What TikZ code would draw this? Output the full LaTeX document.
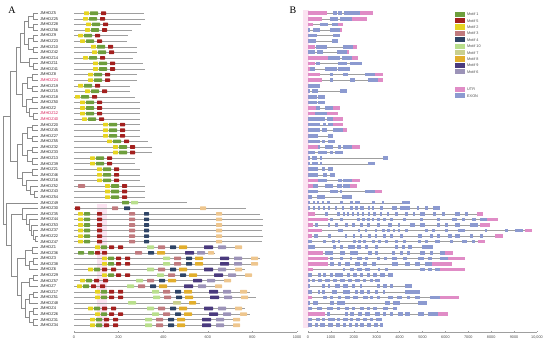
\documentclass[tikz,border=0pt]{standalone}
\usepackage{fontspec}
\setmainfont{Liberation Serif}
\setsansfont{Liberation Sans}
\usetikzlibrary{calc}

\definecolor{treegray}{HTML}{8C8C8C}
\definecolor{mone}{HTML}{6E9E3C}
\definecolor{mfive}{HTML}{A3201E}
\definecolor{mtwo}{HTML}{E6D421}
\definecolor{mthree}{HTML}{C07A7E}
\definecolor{mfour}{HTML}{2E4466}
\definecolor{mten}{HTML}{B9DF8C}
\definecolor{mseven}{HTML}{C9CF8E}
\definecolor{meight}{HTML}{E2AE2C}
\definecolor{mnine}{HTML}{4A3A7E}
\definecolor{msix}{HTML}{9C93B8}
\definecolor{mtan}{HTML}{EEC68E}
\definecolor{utrpink}{HTML}{E08CC6}
\definecolor{exonblue}{HTML}{8C9AD0}
\definecolor{bandpink}{HTML}{FBE3F1}
\definecolor{hlred}{HTML}{D8205A}

\tikzset{
  branch/.style={treegray,line width=0.35pt},
  protline/.style={gray!75,line width=0.4pt},
  intron/.style={gray!75,line width=0.35pt},
  gname/.style={font=\sffamily\fontsize{4}{4}\selectfont,anchor=west,inner sep=0pt},
  scalelabel/.style={font=\sffamily\fontsize{3.8}{4}\selectfont,inner sep=0pt,text=black!70},
  keytext/.style={font=\sffamily\fontsize{3.8}{4}\selectfont,anchor=west,inner sep=0pt,text=black!70},
  panel/.style={font=\fontsize{10}{10}\selectfont,inner sep=0pt}
}

\newcommand{\clade}[4]{%
  \path let \p1=($(#3)!.5!(#4)$) in (#2pt,\y1) coordinate (#1);
  \draw[branch] (#1) |- (#3) (#1) |- (#4);}
\newcommand{\motif}[4]{\fill[#1,rounded corners=0.5pt] (#2,#4-1.8) rectangle ++(#3,3.6);}

\begin{document}
\begin{tikzpicture}[x=1pt,y=-1pt]
  \useasboundingbox (0,0) rectangle (550,344);
  \node[panel] (pa) at (12,10) {A};
  \node[panel] (pb) at (293,10) {B};

  \fill[bandpink] (97,204) rectangle (107,328);
  \fill[bandpink] (303,10) rectangle (309,328);

  \foreach \lab [count=\r] in {5,25,28,56,9,23,10,42,14,11,41,8,24,19,15,18,50,2,12,40,20,45,27,55,32,33,13,39,21,46,16,52,43,54,49,30,35,44,53,37,22,47,1,36,3,38,6,29,57,7,17,51,48,4,26,31,34}{
    \pgfmathsetmacro\yy{13.3+(\r-1)*5.57}
    \def\tc{black!85}
    \ifnum\r=13 \def\tc{hlred}\fi
    \ifnum\r=19 \def\tc{hlred}\fi
    \ifnum\r=20 \def\tc{hlred}\fi
    \coordinate (l\r) at (38,\yy);
    \node[gname,text=\tc] (g\r) at (40,\yy) {JMHDZ\lab};
  }

  \clade{a1}{33}{l1}{l2}
  \clade{a2}{33}{l3}{l4}
  \clade{a}{28}{a1}{a2}
  \clade{b1}{33}{l5}{l6}
  \clade{b2}{33}{l7}{l8}
  \clade{b}{28}{b1}{b2}
  \clade{ab}{24}{a}{b}
  \clade{c1}{33}{l10}{l11}
  \clade{c}{29}{l9}{c1}
  \clade{abc}{20}{ab}{c}
  \clade{d}{32}{l12}{l13}
  \clade{e}{32}{l14}{l15}
  \clade{de}{27}{d}{e}
  \clade{f}{32}{l16}{l17}
  \clade{g1}{33}{l19}{l20}
  \clade{g}{29}{l18}{g1}
  \clade{fg}{26}{f}{g}
  \clade{defg}{22}{de}{fg}
  \clade{top}{16}{abc}{defg}
  \clade{h}{32}{l21}{l22}
  \clade{i}{32}{l23}{l24}
  \clade{hi}{27}{h}{i}
  \clade{j}{32}{l25}{l26}
  \clade{k}{32}{l27}{l28}
  \clade{jk}{27}{j}{k}
  \clade{hijk}{22}{hi}{jk}
  \clade{ll}{32}{l29}{l30}
  \clade{m2}{34}{l33}{l34}
  \clade{m1}{30}{l32}{m2}
  \clade{m}{26}{l31}{m1}
  \clade{lm}{22}{ll}{m}
  \clade{bot}{17}{hijk}{lm}
  \clade{G1}{10}{top}{bot}
  \clade{q6}{35}{l41}{l42}
  \clade{q5}{33}{l40}{q6}
  \clade{q4}{31}{l39}{q5}
  \clade{q3}{29}{l38}{q4}
  \clade{q2}{26}{l37}{q3}
  \clade{q}{22}{l36}{q2}
  \clade{r1}{32}{l43}{l44}
  \clade{r2}{33}{l45}{l46}
  \clade{r3}{29}{r2}{l47}
  \clade{r4}{25}{r1}{r3}
  \clade{s1}{33}{l48}{l49}
  \clade{s2}{29}{s1}{l50}
  \clade{s3}{33}{l51}{l52}
  \clade{s4}{29}{s3}{l53}
  \clade{s5}{33}{l54}{l55}
  \clade{s6}{33}{l56}{l57}
  \clade{s7}{29}{s5}{s6}
  \clade{s8}{25}{s4}{s7}
  \clade{s9}{21}{s2}{s8}
  \clade{rr}{17}{r4}{s9}
  \clade{G3}{11}{q}{rr}
  \clade{X}{6}{l35}{G3}
  \clade{root}{3}{G1}{X}

  \foreach \r/\s/\e in {1/84/144,2/83/145,3/86/141,4/85/132,5/78/128,6/80/127,7/91/137,8/92/137,9/83/133,10/93/143,11/93/145,12/88/137,13/88/137,14/78/130,15/85/130,16/75/135,17/80/140,18/80/140,19/80/140,20/82/140,21/103/140,22/103/140,23/103/140,24/107/148,25/113/152,26/113/152,27/90/135,28/90/135,29/97/140,30/97/140,31/97/140,32/105/145,33/105/145,34/105/145}{
    \pgfmathsetmacro\yy{13.3+(\r-1)*5.57}
    \draw[protline] (74,\yy) -- (\e,\yy);
    \motif{mtwo}{\s}{5}{\yy}
    \motif{mone}{\s+6}{8}{\yy}
    \motif{mfive}{\s+17}{5}{\yy}
  }
  \motif{mthree}{78}{7}{13.3+31*5.57}
  \draw[protline] (74,{13.3+34*5.57}) -- (187,{13.3+34*5.57});
  \motif{mone}{122}{7}{13.3+34*5.57}
  \motif{mten}{131}{7}{13.3+34*5.57}

  \pgfmathsetmacro\yy{13.3+35*5.57}
  \draw[protline] (74,\yy) -- (246,\yy);
  \motif{mfive}{75}{5}{\yy}
  \motif{mthree}{112}{6}{\yy}
  \motif{mfour}{124}{6}{\yy}
  \motif{mtan}{200}{6}{\yy}
  \foreach \r/\e in {37/260,38/263,39/263,40/262,41/263,42/262}{
    \pgfmathsetmacro\yy{13.3+(\r-1)*5.57}
    \draw[protline] (74,\yy) -- (\e,\yy);
    \motif{mtwo}{78}{5}{\yy}
    \motif{mone}{84}{6}{\yy}
    \motif{mfive}{97}{5}{\yy}
    \motif{mthree}{129}{6}{\yy}
    \motif{mfour}{144}{5}{\yy}
    \motif{mtan}{216}{6}{\yy}
  }

  \foreach \r/\Y/\L/\e in {43/95/147/240,45/102/163/260,46/102/163/255,47/88/147/245,48/102/157/250,49/80/136/225,50/77/127/215,51/95/152/250,52/95/153/256,54/88/147/245,55/95/152/250,56/90/145/240,57/90/145/238}{
    \pgfmathsetmacro\yy{13.3+(\r-1)*5.57}
    \draw[protline] (74,\yy) -- (\e,\yy);
    \motif{mtwo}{\Y}{5}{\yy}
    \motif{mone}{\Y+6}{6}{\yy}
    \motif{mfive}{\Y+14}{5}{\yy}
    \motif{mfive}{\Y+23}{5}{\yy}
    \motif{mten}{\L}{7}{\yy}
    \motif{mthree}{\L+11}{7}{\yy}
    \motif{mfour}{\L+23}{6}{\yy}
    \motif{meight}{\L+32}{8}{\yy}
    \motif{mnine}{\L+57}{9}{\yy}
    \motif{msix}{\L+71}{8}{\yy}
    \motif{mtan}{\L+88}{7}{\yy}
  }
  \pgfmathsetmacro\yy{13.3+43*5.57}
  \draw[protline] (74,\yy) -- (215,\yy);
  \motif{mone}{78}{6}{\yy}
  \motif{mone}{88}{6}{\yy}
  \motif{mfive}{95}{5}{\yy}
  \motif{mfive}{102}{5}{\yy}
  \motif{mthree}{135}{7}{\yy}
  \motif{mfour}{148}{6}{\yy}
  \motif{meight}{157}{8}{\yy}
  \motif{mnine}{185}{9}{\yy}
  \motif{msix}{197}{8}{\yy}
  \motif{mtan}{208}{6}{\yy}
  \pgfmathsetmacro\yy{13.3+52*5.57}
  \draw[protline] (74,\yy) -- (200,\yy);
  \motif{mten}{128}{8}{\yy}
  \motif{mseven}{173}{8}{\yy}
  \motif{meight}{189}{7}{\yy}

  \draw[protline] (74,332) -- (297,332);
  \foreach \t in {0,200,...,1000}{
    \pgfmathsetmacro\tx{74+\t*0.223}
    \draw[protline] (\tx,332) -- (\tx,330.8);
    \node[scalelabel] (sa\t) at (\tx,337) {\t};
  }

  \foreach \r/\b/\ex/\ut in {
    1/373/{333/337,338/342,344/360}/{308/327,360/373},
    2/367/{330/338,340/352}/{308/322,352/367},
    3/343/{320/328,332/338}/{308/313,338/343},
    4/342/{308/310,313/320,330/340}/{340/342},
    5/340/{308/317,333/340}/{308/308},
    6/338/{308/316,332/338}/{308/308},
    7/357/{316/327,343/353}/{308/315,353/357},
    8/349/{308/315,317/323,337/347}/{347/349},
    9/358/{328/340,342/352}/{308/328,352/358},
    10/362/{316/320,338/347,350/362}/{308/315},
    11/350/{310/315,325/337,338/350}/{308/310},
    12/383/{330/333,343/348,365/375}/{308/320,375/383},
    13/383/{330/333,350/355,368/378}/{308/322,378/383},
    14/320/{308/320}/{308/308},
    15/347/{308/310,312/318,340/347}/{308/308},
    16/325/{308/317,318/325}/{308/308},
    17/325/{308/317,318/325}/{308/308},
    18/340/{316/320,325/333}/{308/316,333/340},
    19/338/{315/327}/{308/315,327/338},
    20/343/{308/325,327/333}/{333/343},
    21/343/{308/320,323/326,328/333}/{333/343},
    22/347/{308/320,322/327,333/343}/{343/347},
    23/333/{308/318,328/333}/{308/308},
    24/335/{308/320,322/325,328/335}/{308/308},
    25/360/{318/320,325/333,338/341,343/352}/{308/318,352/360},
    26/343/{308/315,318/327,330/333,335/343}/{308/308},
    27/388/{308/310,312/317,320/322,383/388}/{308/308},
    28/375/{308/310,312/318,320/322,368/375}/{308/308},
    29/333/{308/318,322/325,328/333}/{308/308},
    30/335/{308/318,323/327,330/335}/{308/308},
    31/360/{318/327,338/342,343/352}/{308/318,352/360},
    32/357/{313/318,325/333,337/342,343/350}/{308/313,350/357},
    33/382/{308/318,330/338,340/342,365/375}/{375/382},
    34/352/{308/312,317/325,342/352}/{308/308},
    35/410/{308/310,313/315,317/319,322/324,327/330,340/343,350/353,355/360,372/375,382/384,402/410}/{308/308},
    36/440/{308/310,313/315,318/320,323/325,328/330,335/337,342/344,350/353,355/358,360/364,368/370,372/374,380/383,392/397,400/410,417/419,425/428,433/440}/{308/308},
    37/483/{325/328,337/340,343/345,347/349,352/354,357/359,362/364,368/370,373/376,380/382,387/389,395/398,405/408,413/415,420/425,433/436,442/445,455/460,465/468}/{308/315,477/483},
    38/498/{330/333,340/343,357/360,362/365,367/370,372/374,377/380,383/386,390/393,403/406,420/423,437/440,452/457,462/465,472/476,480/487}/{308/328,487/498},
    39/490/{315/318,328/330,335/338,345/348,352/355,360/363,367/370,377/380,388/392,398/400,410/415,420/425,437/440,445/448,455/460,470/478}/{308/313,480/490},
    40/532/{338/343,358/360,365/367,375/377,382/385,387/390,393/395,398/400,405/408,425/428,432/435,445/448,458/465,485/487,505/508,515/523}/{308/322,525/532},
    41/503/{314/318,328/331,345/347,353/355,360/362,368/371,375/377,383/386,390/393,400/403,418/422,430/433,437/440,448/452,455/460,470/473,480/483}/{308/312,495/503},
    42/485/{308/312,323/326,332/335,338/340,353/356,358/361,363/366,372/375,378/381,385/388,395/398,403/406,418/421,425/428,435/440,450/453,462/467,472/475}/{478/485},
    43/433/{308/315,333/336,340/343,348/355,357/361,365/368,375/378,395/398,402/405,408/412,422/433}/{308/308},
    44/453/{325/333,340/345,350/358,368/372,375/378,392/395,400/403,407/410,420/425,430/433,440/445}/{308/323,445/453},
    45/465/{330/333,340/343,350/352,357/362,365/368,377/380,384/387,392/397,403/407,418/424,428/432,440/448}/{308/328,448/465},
    46/452/{330/334,338/341,345/350,355/360,363/367,372/376,392/398,405/410,415/420,425/432}/{308/328,432/452},
    47/465/{343/345,350/354,357/362,365/370,378/380,385/388,420/425,428/432,435/440}/{308/313,440/465},
    48/393/{308/312,318/321,323/326,330/333,335/343,347/350,353/357,360/363,367/370,373/377,380/385,388/393}/{308/308},
    49/380/{308/310,312/315,318/322,325/330,333/337,340/345,348/352,355/360,363/366,370/373,375/380}/{308/308},
    50/412/{308/310,322/325,328/330,335/340,343/348,352/355,360/362,377/380,383/387,390/393,405/412}/{308/308},
    51/420/{308/312,318/320,322/325,332/337,343/350,355/358,360/364,367/370,375/378,383/385,405/420}/{308/308},
    52/459/{323/327,330/333,338/341,345/350,353/358,363/368,370/373,377/380,388/393,397/402,407/410,415/420,430/440}/{308/312,440/459},
    53/427/{308/310,313/318,330/334,337/345,385/390,393/400,418/427}/{308/308},
    54/397/{308/312,317/322,327/333,337/340,345/349,352/355,360/364,367/370,373/377,383/388,393/397}/{308/308},
    55/448/{327/330,345/348,350/354,358/362,365/370,375/380,383/386,390/393,398/403,405/410,418/424,428/438}/{308/325,438/448},
    56/382/{308/312,316/320,322/325,328/335,337/340,343/348,350/353,356/360,363/367,370/373,376/382}/{308/308},
    57/383/{308/312,315/318,320/325,328/333,336/340,343/346,349/352,355/358,360/364,367/371,374/378,380/383}/{308/308}}{
    \pgfmathsetmacro\yy{13.3+(\r-1)*5.57}
    \draw[intron] (308,\yy) -- (\b,\yy);
    \foreach \p/\q in \ex {\fill[exonblue] (\p,\yy-1.8) rectangle (\q,\yy+1.8);}
    \foreach \p/\q in \ut {\fill[utrpink] (\p,\yy-1.8) rectangle (\q,\yy+1.8);}
  }

  \draw[protline] (308,332) -- (537,332);
  \foreach \k/\lab in {0/0,1/1000,2/2000,3/3000,4/4000,5/5000,6/6000,7/7000,8/8000,9/9000,10/{10,000}}{
    \pgfmathsetmacro\tx{308+\k*22.9}
    \draw[protline] (\tx,332) -- (\tx,330.8);
    \node[scalelabel] (sb\k) at (\tx,337) {\lab};
  }

  \foreach \c/\t [count=\i] in {mone/Motif 1,mfive/Motif 5,mtwo/Motif 2,mthree/Motif 3,mfour/Motif 4,mten/Motif 10,mseven/Motif 7,meight/Motif 8,mnine/Motif 9,msix/Motif 6}{
    \pgfmathsetmacro\ky{14.3+(\i-1)*6.4}
    \fill[\c] (455,\ky-2.6) rectangle (465,\ky+2.6);
    \node[keytext] (key\i) at (467,\ky) {\t};
  }
  \fill[utrpink] (455,86.7) rectangle (465,91.9);
  \node[keytext] (keyutr) at (467,89.3) {UTR};
  \fill[exonblue] (455,93.1) rectangle (465,98.3);
  \node[keytext] (keyexon) at (467,95.7) {EXON};
\end{tikzpicture}
\end{document}
